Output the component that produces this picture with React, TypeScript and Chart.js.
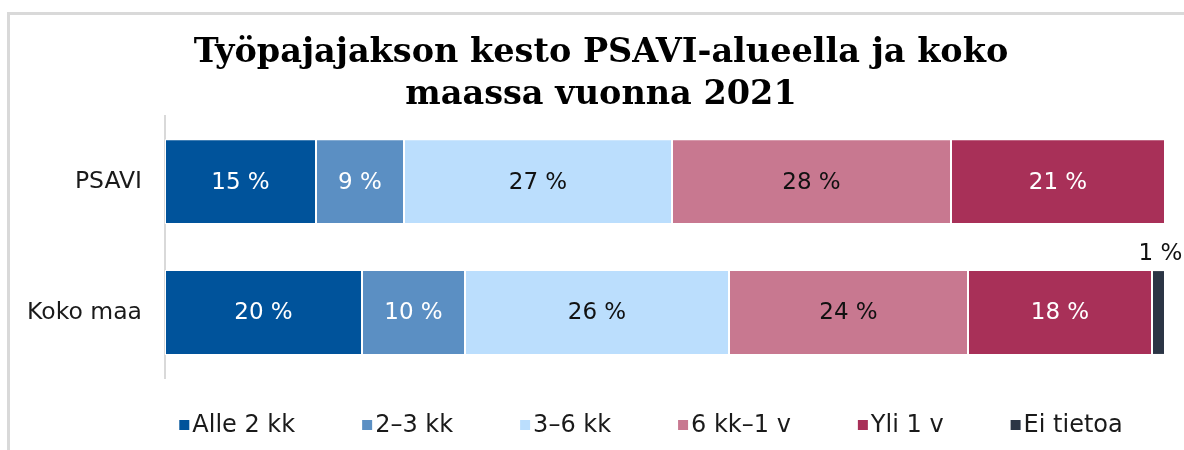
import React, { useEffect, useRef } from "react";
import { Chart, registerables } from "chart.js";

Chart.register(...registerables);

const categories = ["PSAVI", "Koko maa"];
const seriesNames = ["Alle 2 kk", "2–3 kk", "3–6 kk", "6 kk–1 v", "Yli 1 v", "Ei tietoa"];
const alle2kk = [15.1, 19.7];
const kk2to3 = [8.8, 10.3];
const kk3to6 = [26.8, 26.4];
const kk6to1v = [27.9, 23.9];
const yli1v = [21.4, 18.4];
const eiTietoa = [0, 1.3];
const seriesValues = [alle2kk, kk2to3, kk3to6, kk6to1v, yli1v, eiTietoa];

const seriesColors = ["#00539b", "#5b8fc3", "#bbdefd", "#c87890", "#a83058", "#2b3545"];
const labelColors = ["#ffffff", "#ffffff", "#111111", "#111111", "#ffffff", "#ffffff"];

const LABEL_FONT = "23px 'DejaVu Sans'";
const LEGEND_FONT = "24px 'DejaVu Sans'";

const dataLabelPlugin = {
  id: "dataLabels",
  afterDatasetsDraw(chart: any) {
    const ctx = chart.ctx;
    ctx.save();
    ctx.font = LABEL_FONT;
    ctx.textAlign = "center";
    ctx.textBaseline = "middle";
    chart.data.datasets.forEach((ds: any, i: number) => {
      const meta = chart.getDatasetMeta(i);
      meta.data.forEach((el: any, j: number) => {
        const v = ds.data[j];
        if (!v) return;
        const { x, base, y, height } = el.getProps(["x", "base", "y", "height"], true);
        const w = Math.abs(x - base);
        const cx = (x + base) / 2;
        const txt = Math.round(v) + " %";
        if (w > 40) {
          ctx.fillStyle = labelColors[i];
          ctx.fillText(txt, cx, y + 1);
        } else {
          ctx.fillStyle = "#111111";
          ctx.fillText(txt, cx + 2, y - height / 2 - 16);
        }
      });
    });
    ctx.restore();
  },
};

const legendPlugin = {
  id: "customLegend",
  afterDraw(chart: any) {
    const ctx = chart.ctx;
    ctx.save();
    ctx.font = LEGEND_FONT;
    ctx.textBaseline = "middle";
    ctx.textAlign = "left";
    const box = 10;
    const boxGap = 3;
    const itemGap = 67;
    const widths = seriesNames.map((n) => box + boxGap + ctx.measureText(n).width);
    const total = widths.reduce((a, b) => a + b, 0) + itemGap * (widths.length - 1);
    let x = 651 - total / 2;
    const cy = 425;
    seriesNames.forEach((n, i) => {
      ctx.fillStyle = seriesColors[i];
      ctx.fillRect(x, cy - box / 2, box, box);
      ctx.fillStyle = "#1a1a1a";
      ctx.fillText(n, x + box + boxGap, cy + 1);
      x += widths[i] + itemGap;
    });
    ctx.restore();
  },
};

// shift the title box so its centre matches the reference
const titleShiftPlugin = {
  id: "titleShift",
  afterLayout(chart: any) {
    if (chart.titleBlock) {
      chart.titleBlock.left = 37;
    }
  },
};

export default function App() {
  const ref = useRef<HTMLCanvasElement>(null);
  useEffect(() => {
    if (!ref.current) return;
    const chart = new Chart(ref.current, {
      type: "bar",
      data: {
        labels: categories,
        datasets: seriesNames.map((name, i) => ({
          label: name,
          data: seriesValues[i],
          backgroundColor: seriesColors[i],
          borderColor: "#ffffff",
          borderWidth: 1,
          borderSkipped: false,
          categoryPercentage: 0.8,
          barPercentage: 0.81,
        })),
      },
      options: {
        indexAxis: "y",
        responsive: false,
        animation: false,
        layout: { padding: { left: 8, right: 19, top: 0, bottom: 72 } },
        plugins: {
          legend: { display: false },
          tooltip: { enabled: false },
          title: {
            display: true,
            text: ["Työpajajakson kesto PSAVI-alueella ja koko", "maassa vuonna 2021"],
            font: { family: "'DejaVu Serif'", size: 33.5, weight: "bold", lineHeight: 1.24 },
            color: "#000000",
            padding: { top: 33, bottom: 0 },
          },
        },
        scales: {
          x: {
            stacked: true,
            min: 0,
            max: 100,
            display: false,
          },
          y: {
            stacked: true,
            grid: { display: false, drawTicks: false, tickLength: 0 },
            border: { display: true, color: "#d9d9d9", width: 2 },
            ticks: {
              font: { family: "'DejaVu Sans'", size: 23.5 },
              color: "#1a1a1a",
              padding: 23,
            },
            afterFit(scale: any) {
              scale.width = 157;
            },
          },
        },
      },
      plugins: [dataLabelPlugin, legendPlugin, titleShiftPlugin],
    });
    return () => chart.destroy();
  }, []);

  return (
    <div style={{ position: "fixed", left: 0, top: 0, width: 1184, height: 450, background: "#ffffff", overflow: "hidden" }}>
      <div
        style={{
          position: "absolute",
          left: 7,
          top: 12,
          width: 1300,
          height: 600,
          border: "3px solid #d9d9d9",
          boxSizing: "border-box",
        }}
      />
      <canvas ref={ref} width={1184} height={450} style={{ position: "absolute", left: 0, top: 0, width: 1184, height: 450 }} />
    </div>
  );
}
